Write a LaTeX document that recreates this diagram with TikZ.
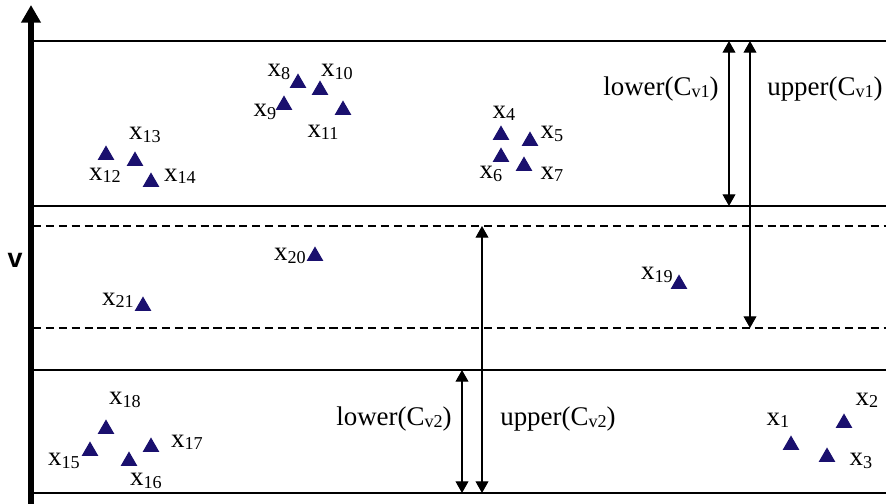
\documentclass[tikz,border=0pt]{standalone}
\usepackage{fontspec}
\setmainfont{Liberation Serif}
\newfontfamily\axisfont{Liberation Sans}
\usepackage{tikz}
\usetikzlibrary{shapes.geometric, arrows.meta, positioning}
\usepackage{xcolor}
\definecolor{ptblue}{RGB}{26,16,110}
\newcommand{\sbs}[1]{\raisebox{-2pt}{\fontsize{15.5}{16}\selectfont #1}}

\begin{document}
\begin{tikzpicture}[
    x=0.03cm,
    y=-0.03cm,
    obj/.style={regular polygon, regular polygon sides=3, fill=ptblue, draw=none, inner sep=0pt, minimum size=0.58cm, yshift=-1.8pt},
    lbl/.style={inner sep=0pt, font=\fontsize{23}{26}\selectfont},
    level/.style={draw=black, line width=1.1pt},
    dashlevel/.style={draw=black, line width=1.1pt, dash pattern=on 7pt off 4pt},
    dimarrow/.style={line width=1.1pt, {Triangle[length=10pt,width=11pt]}-{Triangle[length=10pt,width=11pt]}}
]
\useasboundingbox (0,0) rectangle (886,504);

% Axis
\coordinate (axbot) at (31,504);
\coordinate (axtop) at (31,5);
\draw[line width=5pt, -{Triangle[length=15pt,width=16pt]}] (axbot) -- (axtop);
\node [lbl, font=\fontsize{23}{24}\selectfont\axisfont\bfseries] (vlab) at (15,260) {v};

% Level lines
\foreach \y [count=\i] in {41, 206, 370, 493} {
    \coordinate (ls\i) at (33,\y);
    \coordinate (le\i) at (886,\y);
    \draw[level] (ls\i) -- (le\i);
}
\foreach \y [count=\i] in {226, 328} {
    \coordinate (ds\i) at (33,\y);
    \coordinate (de\i) at (886,\y);
    \draw[dashlevel] (ds\i) -- (de\i);
}

% Bounds
\coordinate (lo1t) at (729,41);   \coordinate (lo1b) at (729,206);
\coordinate (up1t) at (750,41);   \coordinate (up1b) at (750,328);
\coordinate (lo2t) at (462,370);  \coordinate (lo2b) at (462,493);
\coordinate (up2t) at (482,226);  \coordinate (up2b) at (482,493);
\draw[dimarrow] (lo1t) -- (lo1b);
\draw[dimarrow] (up1t) -- (up1b);
\draw[dimarrow] (lo2t) -- (lo2b);
\draw[dimarrow] (up2t) -- (up2b);

\node [lbl] (lo1lab) at (661,89) {lower(C\sbs{v1})};
\node [lbl] (up1lab) at (825,89) {upper(C\sbs{v1})};
\node [lbl] (lo2lab) at (394,419) {lower(C\sbs{v2})};
\node [lbl] (up2lab) at (558,419) {upper(C\sbs{v2})};

% Objects
\foreach \n/\px/\py/\lx/\ly in {
    1/791/443/778/420, 2/844/421/867/400, 3/827/455/861/461,
    4/501/133/504/113, 5/530/139/552/134, 6/501/155/491/174, 7/524/164/552/174,
    8/298/81/279/72, 9/284/103/265/112, 10/320/88/337/72, 11/343/108/323/132,
    12/106/153/105/175, 13/135/159/145/135, 14/151/180/180/176,
    15/90/449/64/461, 16/129/459/146/481, 17/151/445/187/442, 18/106/427/125/400,
    19/679/282/657/275, 20/315/254/290/256, 21/143/304/118/300} {
    \node [obj] (p\n) at (\px,\py) {};
    \node [lbl] (l\n) at (\lx,\ly) {x\sbs{\n}};
}

\end{tikzpicture}
\end{document}
